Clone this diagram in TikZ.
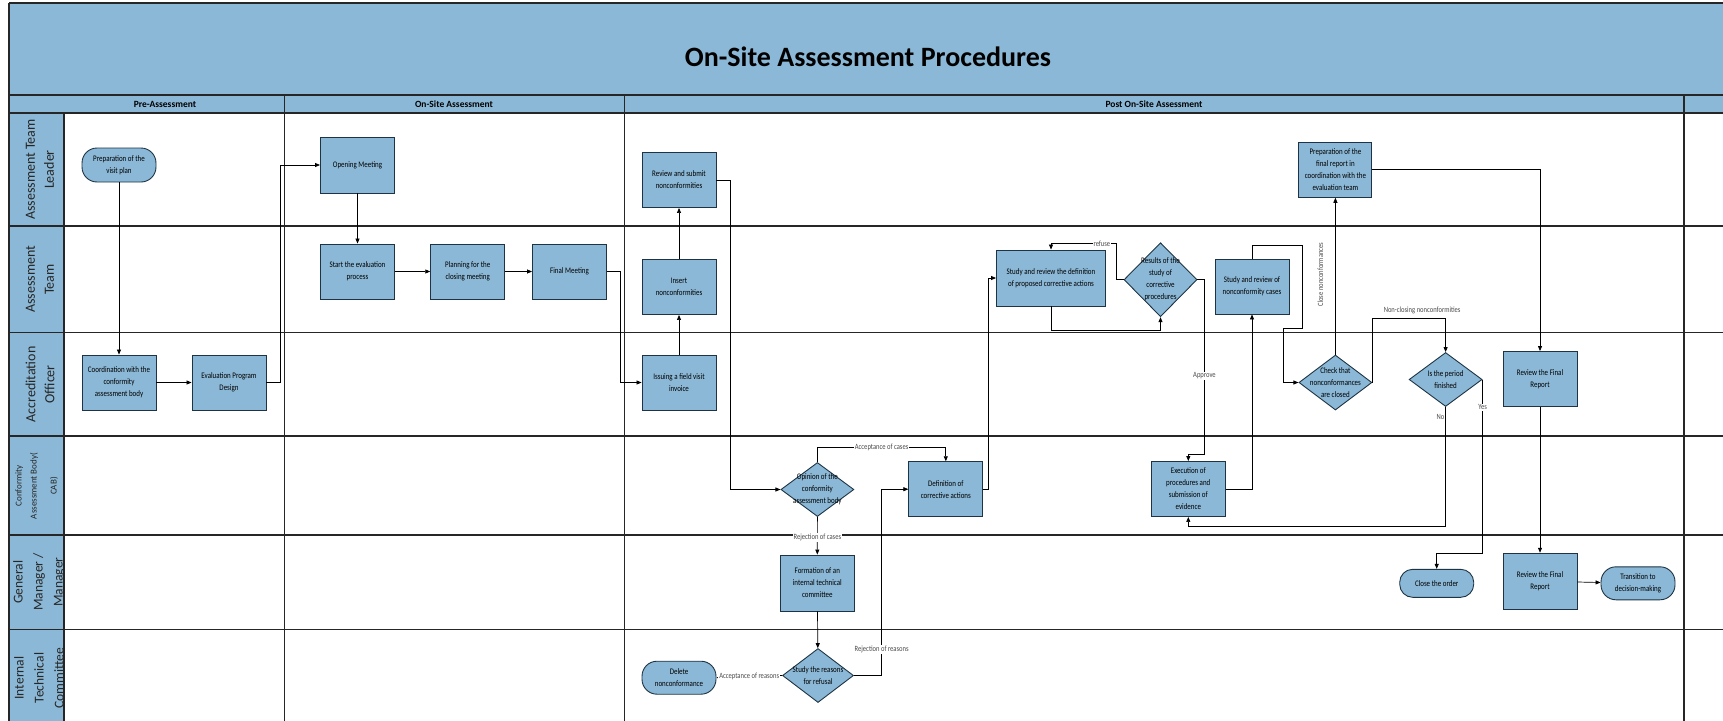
\documentclass[tikz,border=0pt]{standalone}
\usepackage{fontspec}
\setmainfont{Carlito}
\newfontfamily\nodefont[FakeStretch=0.82]{Carlito}
\usetikzlibrary{shapes.geometric,arrows.meta,calc}
\definecolor{lanefill}{HTML}{8BB8D6}
\definecolor{nodeborder}{HTML}{1E3444}
\definecolor{labelgray}{HTML}{4A4A4A}
\begin{document}
\begin{tikzpicture}[x=1pt,y=-1pt,
  proc/.style={draw=nodeborder, line width=0.9pt, fill=lanefill, minimum width=74pt, minimum height=55pt, inner sep=1pt, align=center, font=\nodefont\fontsize{8.5}{12}\selectfont},
  term/.style={proc, rounded corners=15pt, minimum height=34pt},
  dec/.style={draw=nodeborder, line width=0.9pt, fill=lanefill, diamond, minimum width=73pt, minimum height=54pt, inner sep=0pt},
  dtext/.style={align=center, font=\nodefont\fontsize{8.5}{12}\selectfont},
  conn/.style={draw=black, line width=0.7pt, -{Triangle[length=5pt,width=4pt]}},
  elabel/.style={fill=white, inner sep=1pt, text=labelgray, font=\nodefont\fontsize{8}{9}\selectfont},
  lanelbl/.style={rotate=90, align=center, font=\fontsize{14}{19}\selectfont, text=black!85},
  lane/.style={line width=1.1pt, draw=black!85},
]
\useasboundingbox (0,0) rectangle (1723,720);
\begin{scope}
\clip (0,0) rectangle (1723,720);
% background bands
\fill[lanefill] (9,3) rectangle (1730,113);
\fill[lanefill] (9,113) rectangle (64,730);
% lines
\draw[lane] (9,3) -- (1730,3);
\draw[lane] (9,3) -- (9,730);
\draw[lane] (9,95) -- (1730,95);
\draw[lane] (9,113) -- (1730,113);
\foreach \yy in {226,332.7,436,535,629.3} {\draw[lane] (9,\yy) -- (1730,\yy);}
\draw[lane] (64,113) -- (64,730);
\foreach \xx in {284.3,624.4,1684} {\draw[lane] (\xx,95) -- (\xx,730);}
% title and headers
\node[font=\fontsize{28}{32}\selectfont\bfseries] (title) at (868,57) {On-Site Assessment Procedures};
\node[font=\fontsize{9.5}{11}\selectfont\bfseries] (hpre) at (165,104) {Pre-Assessment};
\node[font=\fontsize{9.5}{11}\selectfont\bfseries] (hon) at (454,104) {On-Site Assessment};
\node[font=\fontsize{9.5}{11}\selectfont\bfseries] (hpost) at (1154,104) {Post On-Site Assessment};
% lane labels
\node[lanelbl] (l1) at (40,169.5) {Assessment Team\\Leader};
\node[lanelbl] (l2) at (40,279.4) {Assessment\\Team};
\node[lanelbl] (l3) at (40,384.4) {Accreditation\\Officer};
\node[lanelbl, font=\fontsize{9}{15}\selectfont] (l4) at (36.7,486) {Conformity\\Assessment Body(\\[5pt]CAB)};
\node[lanelbl, font=\fontsize{13.5}{20}\selectfont] (l5) at (39,582) {General\\Manager /\\Manager};
\node[lanelbl, font=\fontsize{13.5}{20}\selectfont] (l6) at (39,678) {Internal\\Technical\\Committee};
\end{scope}

% nodes
\node[term] (prep) at (119,165) {Preparation of the\\visit plan};
\node[proc] (coord) at (119,382.5) {Coordination with the\\conformity\\assessment body};
\node[proc] (evald) at (229,382.5) {Evaluation Program\\Design};
\node[proc, minimum height=56pt] (open) at (357.5,165) {Opening Meeting};
\node[proc] (start) at (357.5,271.5) {Start the evaluation\\process};
\node[proc] (plan) at (467.7,271.5) {Planning for the\\closing meeting};
\node[proc] (final) at (569.5,271.5) {Final Meeting};
\node[proc] (review) at (679,180) {Review and submit\\nonconformities};
\node[proc] (insert) at (679,287) {Insert\\nonconformities};
\node[proc] (issue) at (679,382.5) {Issuing a field visit\\invoice};
\node[dec] (op) at (817.4,489.5) {};
\node[dtext] (opt) at (op) {Opinion of the\\conformity\\assessment body};
\node[proc] (def) at (945.8,489.2) {Definition of\\corrective actions};
\node[proc, minimum height=56pt] (form) at (817.3,583) {Formation of an\\internal technical\\committee};
\node[dec, minimum width=71pt] (sr) at (818,675.5) {};
\node[dtext] (srt) at (sr) {Study the reasons\\for refusal};
\node[term, minimum height=33pt] (del) at (679,677.7) {Delete\\nonconformance};
\node[proc, minimum width=109pt, minimum height=56pt] (srd) at (1051,278) {Study and review the definition\\of proposed corrective actions};
\node[dec, minimum height=74pt] (res) at (1160.5,279.7) {};
\node[dtext] (rest) at (res) {Results of the\\study of\\corrective\\procedures};
\node[proc] (srn) at (1252,286.5) {Study and review of\\nonconformity cases};
\node[proc] (exe) at (1188.3,489) {Execution of\\procedures and\\submission of\\evidence};
\node[dec, minimum height=55pt] (check) at (1335.4,382.5) {};
\node[dtext] (checkt) at (check) {Check that\\nonconformances\\are closed};
\node[proc, minimum width=73pt] (fin) at (1335.4,169.8) {Preparation of the\\final report in\\coordination with the\\evaluation team};
\node[dec] (period) at (1445.6,379.5) {};
\node[dtext] (periodt) at (period) {Is the period\\finished};
\node[proc] (rfr1) at (1540,379) {Review the Final\\Report};
\node[proc, minimum height=56pt] (rfr2) at (1540,581.2) {Review the Final\\Report};
\node[term, minimum height=28pt, rounded corners=13pt] (close) at (1436.7,583.3) {Close the order};
\node[term, minimum height=33pt] (trans) at (1638,583.3) {Transition to\\decision-making};

% connectors
\draw[conn] (prep) -- (coord);
\draw[conn] (coord) -- (evald);
\draw[conn] (evald.east) -- ++(14,0) |- (open.west);
\draw[conn] (open) -- (start);
\draw[conn] (start) -- (plan);
\draw[conn] (plan) -- (final);
\draw[conn] (final.east) -- ++(13,0) |- (issue.west);
\draw[conn] (issue) -- (insert);
\draw[conn] (insert) -- (review);
\draw[conn] (review.east) -- ++(13.4,0) |- (op.west);
\draw[conn] (op.north) -- ++(0,-14.5) -| node[elabel, pos=0.25] {Acceptance of cases} (def.north);
\draw[conn] (op.south) -- node[elabel, pos=0.54] {Rejection of cases} (form.north);
\draw[conn] (form) -- (sr);
\draw[conn] (sr.west) -- node[elabel, pos=0.5] {Acceptance of reasons} (del.east);
\draw[conn] (sr.east) -- ++(27.7,0) |- node[elabel, pos=0.07] {Rejection of reasons} (def.west);
\draw[conn] (def.east) -- ++(5.2,0) |- (srd.west);
\draw[conn] (srd.south) -- ++(0,24) -| (res.south);
\draw[conn] (res.west) -- ++(-7.3,0) -- ++(0,-36) -| node[elabel, pos=0.11] {refuse} (srd.north);
\draw[conn] (res.east) -- ++(7,0) -- node[elabel, pos=0.55] {Approve} ++(0,175) -| (exe.north);
\draw[conn] (exe.east) -| (srn.south);
\draw[conn] (srn.north) -- ++(0,-13.3) -- ++(50.8,0) -- ++(0,83) -- ++(-19.1,0) |- (check.west);
\draw[conn] (check.north) -- (fin.south);
\node[elabel, rotate=90, fill=none] (closelbl) at ($(check.north)!0.51!(fin.south)+(-15,0)$) {Close nonconformances};
\draw[conn] (check.east) -- ++(0,-64.2) -| node[elabel, pos=0.34, above=3pt, fill=none] {Non-closing nonconformities} (period.north);
\draw[conn] (period.south) -- node[elabel, pos=0.08, left, fill=none] {No} ++(0,119) -| (exe.south);
\draw[conn] (period.east) -- node[elabel, pos=0.16] {Yes} ++(0,173.8) -| (close.north);
\draw[conn] (fin.east) -| (rfr1.north);
\draw[conn] (rfr1) -- (rfr2);
\draw[conn] (rfr2) -- (trans);
\end{tikzpicture}
\end{document}
